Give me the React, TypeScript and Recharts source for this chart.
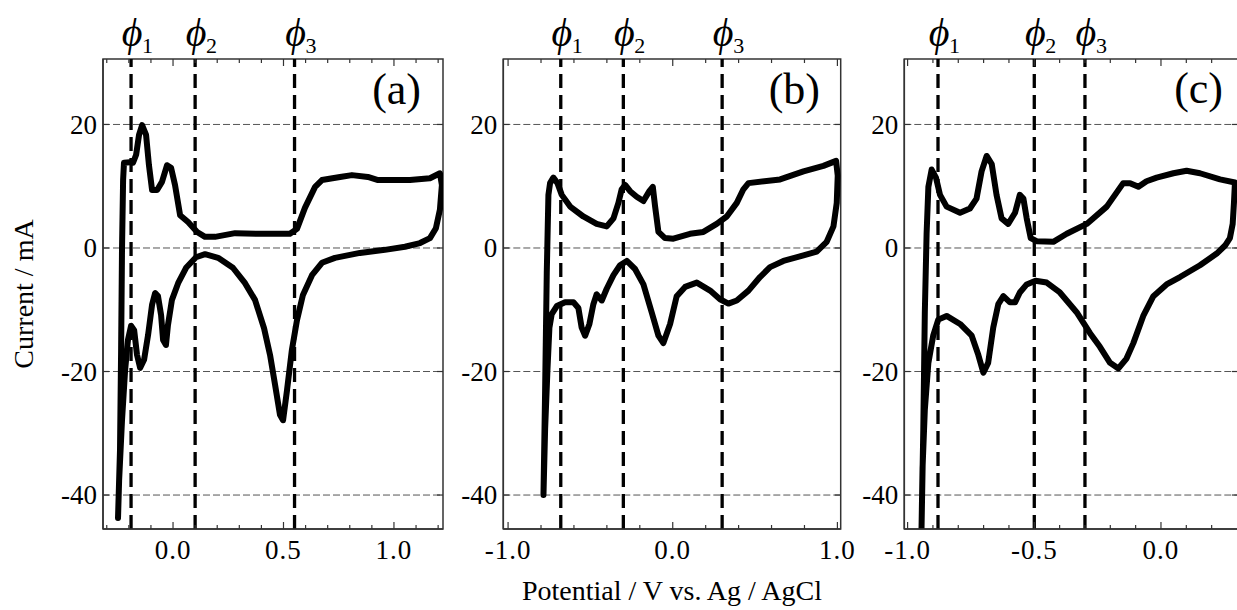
import React from 'react';
import { LineChart, Line, XAxis, YAxis, ReferenceLine, ReferenceArea } from 'recharts';

// panel (a)
const potentialA = [
  -0.249, -0.24, -0.235, -0.231, -0.226, -0.222, -0.195, -0.181, -0.167, -0.154, -0.14, -0.122, -0.109, -0.095,
  -0.072, -0.05, -0.027, -0.009, 0.009, 0.032, 0.068, 0.109, 0.145, 0.19, 0.281, 0.394, 0.529, 0.561, 0.597, 0.643,
  0.674, 0.756, 0.81, 0.882, 0.928, 1.072, 1.163, 1.208, 1.217, 1.208, 1.19, 1.163, 1.118, 1.05, 0.959, 0.846, 0.733,
  0.674, 0.629, 0.588, 0.561, 0.538, 0.516, 0.498, 0.484, 0.462, 0.439, 0.412, 0.371, 0.326, 0.271, 0.204, 0.145,
  0.104, 0.059, 0.023, -0.005, -0.023, -0.032, -0.045, -0.054, -0.068, -0.081, -0.095, -0.113, -0.131, -0.149,
  -0.163, -0.176, -0.19, -0.204, -0.217, -0.231, -0.244, -0.249,
];
const currentA = [
  -43.7, -32.7, -16.5, -0.3, 11.0, 13.8, 13.9, 13.8, 15.1, 18.3, 19.9, 18.3, 13.4, 9.4,
  9.4, 10.7, 13.4, 13.0, 10.2, 5.3, 4.2, 2.6, 1.8, 1.8, 2.4, 2.3, 2.3, 3.1, 6.5, 9.9,
  11.0, 11.5, 11.8, 11.5, 11.0, 11.0, 11.3, 12.1, 10.2, 6.2, 3.2, 1.6, 0.8, 0.2, -0.3, -0.8, -1.6,
  -2.4, -4.4, -7.6, -11.7, -16.5, -23.0, -27.9, -27.0, -22.2, -17.3, -13.0, -8.4, -5.7, -3.2, -1.6, -1.0,
  -1.5, -3.2, -5.7, -8.4, -12.5, -15.7, -14.9, -10.9, -7.8, -7.3, -9.2, -14.1, -18.1, -19.4,
  -17.3, -13.3, -12.6, -14.9, -19.8, -27.9, -37.6, -43.7,
];

// panel (b)
const potentialB = [
  -0.785, -0.775, -0.765, -0.755, -0.745, -0.725, -0.7, -0.674, -0.623, -0.543, -0.462, -0.401, -0.36, -0.33,
  -0.31, -0.289, -0.259, -0.219, -0.178, -0.142, -0.121, -0.107, -0.087, -0.047, 0.004, 0.105, 0.186, 0.267,
  0.328, 0.389, 0.429, 0.46, 0.652, 0.794, 0.915, 0.992, 1.002, 0.996, 0.976, 0.935, 0.874, 0.794, 0.672,
  0.591, 0.53, 0.46, 0.389, 0.338, 0.287, 0.227, 0.146, 0.075, 0.024, -0.016, -0.057, -0.087, -0.128, -0.178,
  -0.229, -0.279, -0.32, -0.36, -0.401, -0.431, -0.462, -0.482, -0.506, -0.532, -0.553, -0.573, -0.603,
  -0.654, -0.704, -0.735, -0.749, -0.761, -0.775, -0.785,
];
const currentB = [
  -40.0, -23.0, -4.0, 8.6, 10.5, 11.4, 10.5, 8.6, 6.7, 5.1, 3.9, 3.5, 4.8, 7.3,
  9.5, 10.2, 9.2, 8.3, 7.6, 9.2, 9.9, 6.7, 2.6, 1.6, 1.5, 2.3, 2.6, 3.9,
  5.1, 7.3, 9.5, 10.5, 11.1, 12.4, 13.3, 14.1, 11.7, 7.3, 3.5, 1.0, -0.6, -1.2, -2.1,
  -3.1, -4.7, -6.9, -8.5, -9.0, -8.3, -6.9, -5.6, -6.3, -7.8, -12.3, -15.4, -14.2, -10.4, -5.9,
  -3.4, -2.1, -2.8, -4.4, -6.6, -8.5, -7.5, -9.1, -12.3, -14.2, -12.9, -9.7, -8.8,
  -8.8, -9.4, -10.7, -12.9, -19.8, -29.3, -40.0,
];

// panel (c)
const potentialC = [
  -0.945, -0.938, -0.932, -0.925, -0.918, -0.905, -0.888, -0.872, -0.846, -0.793, -0.754, -0.728, -0.708,
  -0.688, -0.668, -0.649, -0.629, -0.603, -0.576, -0.557, -0.543, -0.53, -0.514, -0.491, -0.425, -0.372,
  -0.293, -0.214, -0.149, -0.122, -0.089, -0.057, -0.017, 0.049, 0.101, 0.154, 0.233, 0.292, 0.288, 0.283,
  0.272, 0.253, 0.22, 0.154, 0.075, 0.022, -0.03, -0.07, -0.109, -0.136, -0.168, -0.201, -0.241, -0.28,
  -0.333, -0.399, -0.451, -0.495, -0.53, -0.557, -0.576, -0.596, -0.622, -0.642, -0.662, -0.682, -0.701,
  -0.721, -0.747, -0.793, -0.846, -0.879, -0.899, -0.918, -0.932, -0.941, -0.945,
];
const currentC = [
  -45.4, -29.3, -10.4, 2.3, 9.9, 12.7, 11.4, 8.6, 6.7, 5.7, 6.4, 8.0, 12.4,
  14.9, 13.6, 8.6, 4.8, 3.9, 5.7, 8.6, 8.0, 4.8, 1.6, 1.1, 1.0, 2.3,
  3.9, 6.7, 10.5, 10.5, 9.9, 10.8, 11.4, 12.1, 12.5, 12.1, 11.1, 10.6, 7.3, 3.9,
  1.6, 0.4, -0.9, -2.8, -4.7, -5.9, -7.8, -11.0, -15.4, -17.9, -19.5, -18.6, -16.0, -13.8,
  -10.4, -7.2, -5.6, -5.3, -5.9, -7.2, -8.8, -8.8, -7.8, -9.1, -12.9, -18.6, -20.2,
  -17.3, -14.2, -12.3, -11.0, -11.6, -14.2, -18.6, -26.2, -35.6, -45.4,
];

// dashed marker potentials
const phiA = [-0.19, 0.1, 0.55];
const phiB = [-0.68, -0.3, 0.3];
const phiC = [-0.88, -0.5, -0.3];

// axis ticks
const yTicks = [-40, -20, 0, 20];
const xTicksA = [-0.3, -0.2, -0.1, 0, 0.1, 0.2, 0.3, 0.4, 0.5, 0.6, 0.7, 0.8, 0.9, 1.0, 1.1, 1.2];
const xMajorsA = [0, 0.5, 1.0];
const xTicksB = [-1.0, -0.8, -0.6, -0.4, -0.2, 0, 0.2, 0.4, 0.6, 0.8, 1.0];
const xMajorsB = [-1.0, 0, 1.0];
const xTicksC = [-1.0, -0.9, -0.8, -0.7, -0.6, -0.5, -0.4, -0.3, -0.2, -0.1, 0, 0.1, 0.2];
const xMajorsC = [-1.0, -0.5, 0];

const SERIF = "'Liberation Serif', 'DejaVu Serif', serif";
const FRAME = '#333';
const TICK_FONT = 27;
const Y_DOMAIN: [number, number] = [-45.5, 30.6];
const PLOT_TOP = 59;

const isMajor = (v: number, majors: number[]) => majors.some((m) => Math.abs(m - v) < 1e-6);

// bottom tick draws the inward mark on both the bottom and the top frame
const BottomTick = ({ x, y, payload, majors }: any) => {
  const major = isMajor(payload.value, majors);
  const len = major ? 7 : 4;
  return (
    <g>
      <line x1={x} x2={x} y1={y} y2={y - len} stroke={FRAME} strokeWidth={1.2} />
      <line x1={x} x2={x} y1={PLOT_TOP} y2={PLOT_TOP + len} stroke={FRAME} strokeWidth={1.2} />
      {major && (
        <text x={x} y={y + 30} textAnchor="middle" fontSize={TICK_FONT} fontFamily={SERIF} fill="#000" letterSpacing={1}>
          {payload.value.toFixed(1)}
        </text>
      )}
    </g>
  );
};

const LeftTick = ({ x, y, payload, plotRight }: any) => (
  <g>
    <line x1={x} x2={x + 6} y1={y} y2={y} stroke={FRAME} strokeWidth={1.2} />
    <line x1={plotRight} x2={plotRight - 6} y1={y} y2={y} stroke={FRAME} strokeWidth={1.2} />
    <text x={x - 6} y={y} dy="0.35em" textAnchor="end" fontSize={TICK_FONT} fontFamily={SERIF} fill="#000">
      {String(payload.value)}
    </text>
  </g>
);

const phiLabel = (n: number) => (props: any) => {
  const vb = props.viewBox || {};
  const cx = vb.x;
  return (
    <g>
      <text x={cx + 1} y={46} textAnchor="middle" fontSize={40} fontStyle="italic" fontFamily={SERIF} fill="#000">
        ϕ
      </text>
      <text x={cx + 11} y={53} fontSize={22} fontFamily={SERIF} fill="#000">
        {n}
      </text>
    </g>
  );
};

interface PanelProps {
  left: number;
  width: number;
  margin: { top: number; right: number; bottom: number; left: number };
  potential: number[];
  current: number[];
  xDomain: [number, number];
  xTicks: number[];
  xMajors: number[];
  phis: number[];
  yTitle?: boolean;
  xTitle?: boolean;
}

function Panel({ left, width, margin, potential, current, xDomain, xTicks, xMajors, phis, yTitle, xTitle }: PanelProps) {
  const data = potential.map((v, k) => ({ v, i: current[k] }));
  const plotRight = width - margin.right;
  return (
    <div style={{ position: 'absolute', left, top: 0 }}>
      <LineChart width={width} height={610} data={data} margin={margin}>
        {yTicks.map((t) => (
          <ReferenceLine key={'g' + t} y={t} stroke="#555" strokeWidth={1} strokeDasharray="7 3" />
        ))}
        <ReferenceArea
          x1={xDomain[0]}
          x2={xDomain[1]}
          y1={Y_DOMAIN[0]}
          y2={Y_DOMAIN[1]}
          fill="none"
          fillOpacity={0}
          stroke={FRAME}
          strokeWidth={1.5}
        />
        <XAxis
          dataKey="v"
          type="number"
          domain={xDomain}
          allowDataOverflow
          ticks={xTicks}
          interval={0}
          height={30}
          tickSize={0}
          tickMargin={0}
          tickLine={false}
          axisLine={{ stroke: FRAME, strokeWidth: 1.5 }}
          tick={(p: any) => <BottomTick {...p} majors={xMajors} />}
          label={
            xTitle
              ? (p: any) => (
                  <text
                    x={p.viewBox.x + p.viewBox.width / 2}
                    y={p.viewBox.y + 71}
                    textAnchor="middle"
                    fontSize={28}
                    fontFamily={SERIF}
                    fill="#000"
                  >
                    Potential / V vs. Ag / AgCl
                  </text>
                )
              : undefined
          }
        />
        <YAxis
          type="number"
          domain={Y_DOMAIN}
          allowDataOverflow
          ticks={yTicks}
          interval={0}
          width={40}
          tickSize={0}
          tickMargin={0}
          tickLine={false}
          axisLine={{ stroke: FRAME, strokeWidth: 1.5 }}
          tick={(p: any) => <LeftTick {...p} plotRight={plotRight} />}
          label={
            yTitle
              ? (p: any) => {
                  const tx = p.viewBox.x - 30;
                  const ty = p.viewBox.y + p.viewBox.height / 2;
                  return (
                    <text
                      x={tx}
                      y={ty}
                      transform={`rotate(-90, ${tx}, ${ty})`}
                      textAnchor="middle"
                      fontSize={28}
                      fontFamily={SERIF}
                      fill="#000"
                    >
                      Current / mA
                    </text>
                  );
                }
              : undefined
          }
        />
        {phis.map((p, k) => (
          <ReferenceLine
            key={k}
            x={p}
            stroke="#000"
            strokeWidth={3.3}
            strokeDasharray="14 7"
            label={phiLabel(k + 1)}
          />
        ))}
        <Line
          dataKey="i"
          type="linear"
          stroke="#000"
          strokeWidth={6}
          strokeLinejoin="round"
          strokeLinecap="round"
          dot={false}
          activeDot={false}
          isAnimationActive={false}
        />
      </LineChart>
    </div>
  );
}

export default function App() {
  return (
    <div style={{ position: 'absolute', left: 0, top: 0, width: 1237, height: 610, overflow: 'hidden', background: '#fff' }}>
      <Panel
        left={0}
        width={460}
        margin={{ top: PLOT_TOP, right: 17, bottom: 51, left: 63 }}
        potential={potentialA}
        current={currentA}
        xDomain={[-0.317, 1.222]}
        xTicks={xTicksA}
        xMajors={xMajorsA}
        phis={phiA}
        yTitle
      />
      <Panel
        left={440}
        width={420}
        margin={{ top: PLOT_TOP, right: 19.3, bottom: 51, left: 23.3 }}
        potential={potentialB}
        current={currentB}
        xDomain={[-1.029, 1.02]}
        xTicks={xTicksB}
        xMajors={xMajorsB}
        phis={phiB}
        xTitle
      />
      <Panel
        left={860}
        width={378}
        margin={{ top: PLOT_TOP, right: 0, bottom: 51, left: 4.3 }}
        potential={potentialC}
        current={currentC}
        xDomain={[-1.013, 0.304]}
        xTicks={xTicksC}
        xMajors={xMajorsC}
        phis={phiC}
      />
      <svg width={1237} height={610} style={{ position: 'absolute', left: 0, top: 0, pointerEvents: 'none' }}>
        <g fontFamily={SERIF} fontSize={44} fill="#000" textAnchor="end">
          <text x={421} y={104}>(a)</text>
          <text x={820} y={104}>(b)</text>
          <text x={1223} y={103}>(c)</text>
        </g>
      </svg>
    </div>
  );
}
